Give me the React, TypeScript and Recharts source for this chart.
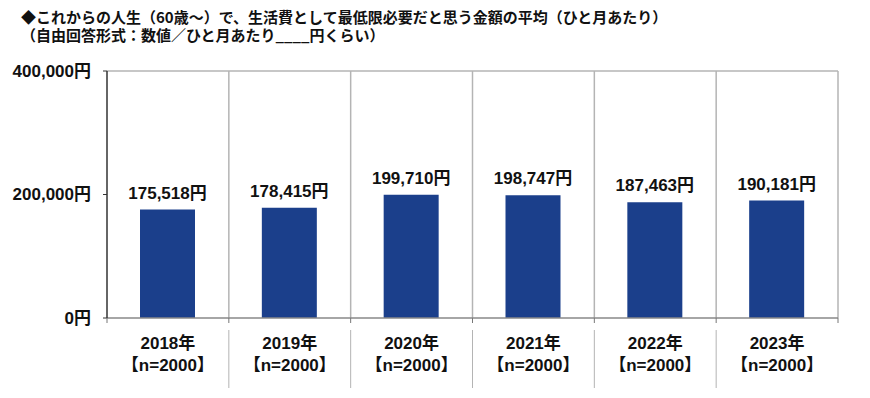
import React from 'react';
import { BarChart, Bar, XAxis, YAxis, CartesianGrid, LabelList } from 'recharts';

const titleLines = [
  '◆これからの人生（60歳～）で、生活費として最低限必要だと思う金額の平均（ひと月あたり）',
  '（自由回答形式：数値／ひと月あたり____円くらい）',
];
const years = ['2018年', '2019年', '2020年', '2021年', '2022年', '2023年'];
const sampleSizes = ['【n=2000】', '【n=2000】', '【n=2000】', '【n=2000】', '【n=2000】', '【n=2000】'];
const amounts = [175518, 178415, 199710, 198747, 187463, 190181];
const yTicks = [0, 200000, 400000];

const data = years.map((year, i) => ({ year, n: sampleSizes[i], value: amounts[i] }));

const W = 870;
const H = 398;
const X_H = 80;
const M = { top: 71, right: 32, left: 0, bottom: 0 };
const Y_W = 107;
const PLOT_W = W - M.left - M.right - Y_W;
const BAND = PLOT_W / years.length;
const AXIS_Y = H - M.bottom - X_H;

const FONT = '"Liberation Sans", Arial, "Noto Sans CJK JP", sans-serif';
const JFONT = '"Noto Sans CJK JP", sans-serif';
const GRID = '#b4b4b4';

const fmtYen = (v: number) => `${Number(v).toLocaleString('en-US')}円`;

const YTick = (props: any) => {
  const { x, y, payload } = props;
  return (
    <text x={x} y={y} textAnchor="end" dominantBaseline="central" fontFamily={FONT} fontWeight="bold" fontSize={17} fill="#111">
      {fmtYen(payload.value)}
    </text>
  );
};

const XTick = (props: any) => {
  const { x, payload, index } = props;
  const last = years.length - 1;
  return (
    <g>
      <line x1={x - BAND / 2} x2={x - BAND / 2} y1={AXIS_Y} y2={AXIS_Y + 5} stroke="#777" />
      {index === last && <line x1={x + BAND / 2} x2={x + BAND / 2} y1={AXIS_Y} y2={AXIS_Y + 5} stroke="#777" />}
      {index < last && <line x1={x + BAND / 2} x2={x + BAND / 2} y1={AXIS_Y + 12} y2={AXIS_Y + 70} stroke={GRID} />}
      <text x={x} y={AXIS_Y + 25} textAnchor="middle" dominantBaseline="central" fontFamily={FONT} fontWeight="bold" fontSize={17} fill="#111">
        {payload.value}
      </text>
      <text x={x} y={AXIS_Y + 47} textAnchor="middle" dominantBaseline="central" fontFamily={FONT} fontWeight="bold" fontSize={17} fill="#111">
        {sampleSizes[index]}
      </text>
    </g>
  );
};

export default function App() {
  return (
    <div style={{ position: 'absolute', left: 0, top: 0, width: W, height: H, background: '#fff' }}>
      <div style={{ position: 'absolute', left: 21, top: 8, fontFamily: JFONT, fontWeight: 'bold', fontSize: 15, lineHeight: '17.5px', color: '#111', whiteSpace: 'pre' }}>
        {titleLines.join('\n')}
      </div>
      <BarChart width={W} height={H} data={data} margin={M}>
        <CartesianGrid
          stroke={GRID}
          strokeWidth={1.5}
          horizontalCoordinatesGenerator={({ offset }: any) => [offset.top]}
          verticalCoordinatesGenerator={({ offset }: any) =>
            years.map((_, i) => offset.left + (offset.width * (i + 1)) / years.length)
          }
        />
        <XAxis
          dataKey="year"
          height={X_H}
          tick={<XTick />}
          tickLine={false}
          tickSize={0}
          tickMargin={0}
          axisLine={{ stroke: '#888', strokeWidth: 1.5 }}
          interval={0}
        />
        <YAxis
          type="number"
          domain={[0, 400000]}
          ticks={yTicks}
          width={Y_W}
          tickSize={4}
          tickMargin={12}
          tickLine={{ stroke: '#333' }}
          axisLine={{ stroke: '#333', strokeWidth: 1.5 }}
          tick={<YTick />}
          interval={0}
        />
        <Bar dataKey="value" fill="#1b3f8b" barSize={55} isAnimationActive={false}>
          <LabelList
            dataKey="value"
            position="top"
            offset={11}
            formatter={(v: any) => fmtYen(v)}
            fontFamily={FONT}
            fontWeight="bold"
            fontSize={17}
            fill="#111"
          />
        </Bar>
      </BarChart>
    </div>
  );
}
